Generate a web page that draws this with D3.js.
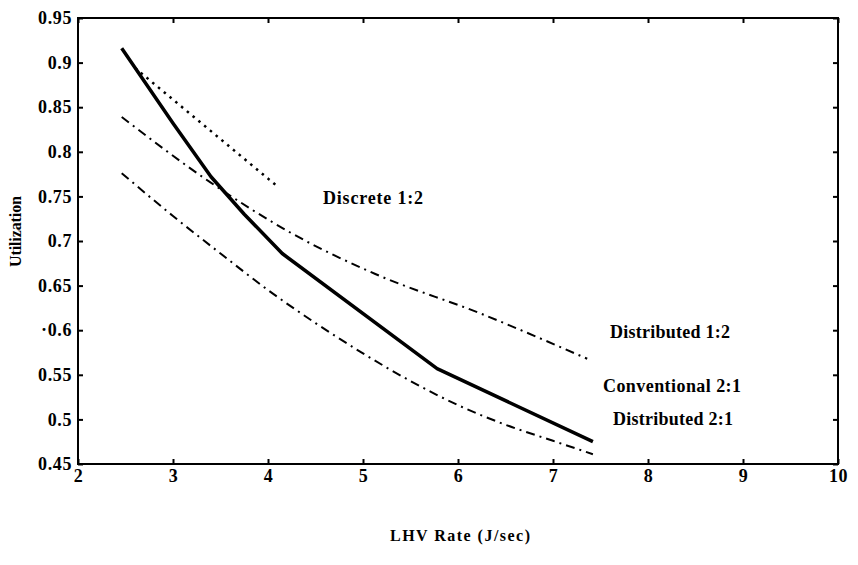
<!DOCTYPE html>
<html><head><meta charset="utf-8">
<script src="https://cdn.jsdelivr.net/npm/d3@7/dist/d3.min.js"></script>
<style>
body{margin:0;background:#fff;}
text{font-family:"Liberation Serif","Times New Roman",serif;font-weight:bold;fill:#000;}
</style></head>
<body><svg id="c" width="858" height="565"></svg>
<script>
// Data
const xTicks = [2,3,4,5,6,7,8,9,10];
const yTicks = [0.45,0.5,0.55,0.6,0.65,0.7,0.75,0.8,0.85,0.9,0.95];
const yTickLabels = ["0.45","0.5","0.55","·0.6","0.65","0.7","0.75","0.8","0.85","0.9","0.95"];

const conventionalX = [2.46,3.0,3.4,3.75,4.15,5.78,7.42];
const conventionalY = [0.916,0.832,0.772,0.730,0.686,0.557,0.475];

const discreteX = [2.6,3.39,4.09];
const discreteY = [0.894,0.824,0.762];

const dist12X = [2.46,3.39,4.26,5.13,6.23,7.36];
const dist12Y = [0.839,0.766,0.708,0.663,0.619,0.568];

const dist21X = [2.46,3.0,3.5,4.0,4.5,5.0,5.5,6.0,6.5,7.0,7.42];
const dist21Y = [0.776,0.728,0.686,0.645,0.608,0.574,0.543,0.516,0.494,0.476,0.461];

const seriesLabels = ["Discrete 1:2","Distributed 1:2","Conventional 2:1","Distributed 2:1"];
const xTitle = "LHV Rate (J/sec)";
const yTitle = "Utilization";

const svg = d3.select("#c");
const L=78,R=838,T=18,B=464;
const x = d3.scaleLinear().domain([2,10]).range([L,R]);
const y = d3.scaleLinear().domain([0.45,0.95]).range([B,T]);

// frame
svg.append("rect").attr("x",L).attr("y",T).attr("width",R-L).attr("height",B-T)
  .attr("fill","none").attr("stroke","#000").attr("stroke-width",2);

// axes with inward ticks
const tk = 5;
const axB = svg.append("g").attr("transform",`translate(0,${B})`)
  .call(d3.axisBottom(x).tickValues(xTicks).tickSize(-tk).tickPadding(9).tickFormat(d3.format("d")));
const axT = svg.append("g").attr("transform",`translate(0,${T})`)
  .call(d3.axisTop(x).tickValues(xTicks).tickSize(-tk).tickFormat(""));
const axL = svg.append("g").attr("transform",`translate(${L},0)`)
  .call(d3.axisLeft(y).tickValues(yTicks).tickSize(-tk).tickPadding(6).tickFormat((d,i)=>yTickLabels[i]));
const axR = svg.append("g").attr("transform",`translate(${R},0)`)
  .call(d3.axisRight(y).tickValues(yTicks).tickSize(-tk).tickFormat(""));
[axB,axT,axL,axR].forEach(a=>{
  a.select(".domain").remove();
  a.selectAll(".tick line").attr("stroke","#000").attr("stroke-width",2);
  a.selectAll("text").attr("font-size",18).attr("font-family","Liberation Serif")
    .attr("font-weight","bold").attr("fill","#000").attr("letter-spacing",0.6);
});
axB.selectAll("text").attr("dy","0.5em");

function draw(xs,ys,w,dash,curve){
  const line = d3.line().x(d=>x(d[0])).y(d=>y(d[1])).curve(curve);
  svg.append("path").datum(xs.map((v,i)=>[v,ys[i]])).attr("d",line)
    .attr("fill","none").attr("stroke","#000").attr("stroke-width",w)
    .attr("stroke-linejoin","round").attr("stroke-dasharray",dash);
}
draw(dist12X,dist12Y,2,"9,5,2,5",d3.curveMonotoneX);
draw(dist21X,dist21Y,2,"9,5,2,5",d3.curveMonotoneX);
draw(discreteX,discreteY,2.5,"2.5,5",d3.curveMonotoneX);
draw(conventionalX,conventionalY,3.5,null,d3.curveLinear);

// series labels
const labelX = [323,610,603,613];
const labelY = [204,338,392,425];
const labelW = [100,120,138,120];
seriesLabels.forEach((s,i)=>{
  svg.append("text").attr("x",labelX[i]).attr("y",labelY[i]).attr("font-size",18)
    .attr("textLength",labelW[i]).attr("lengthAdjust","spacing").text(s);
});

// titles
svg.append("text").attr("x",390).attr("y",541).attr("font-size",16)
  .attr("textLength",140).attr("lengthAdjust","spacing").text(xTitle);
svg.append("text").attr("transform","translate(21,267) rotate(-90)")
  .attr("font-size",16).attr("textLength",71).attr("lengthAdjust","spacing").text(yTitle);
</script></body></html>
